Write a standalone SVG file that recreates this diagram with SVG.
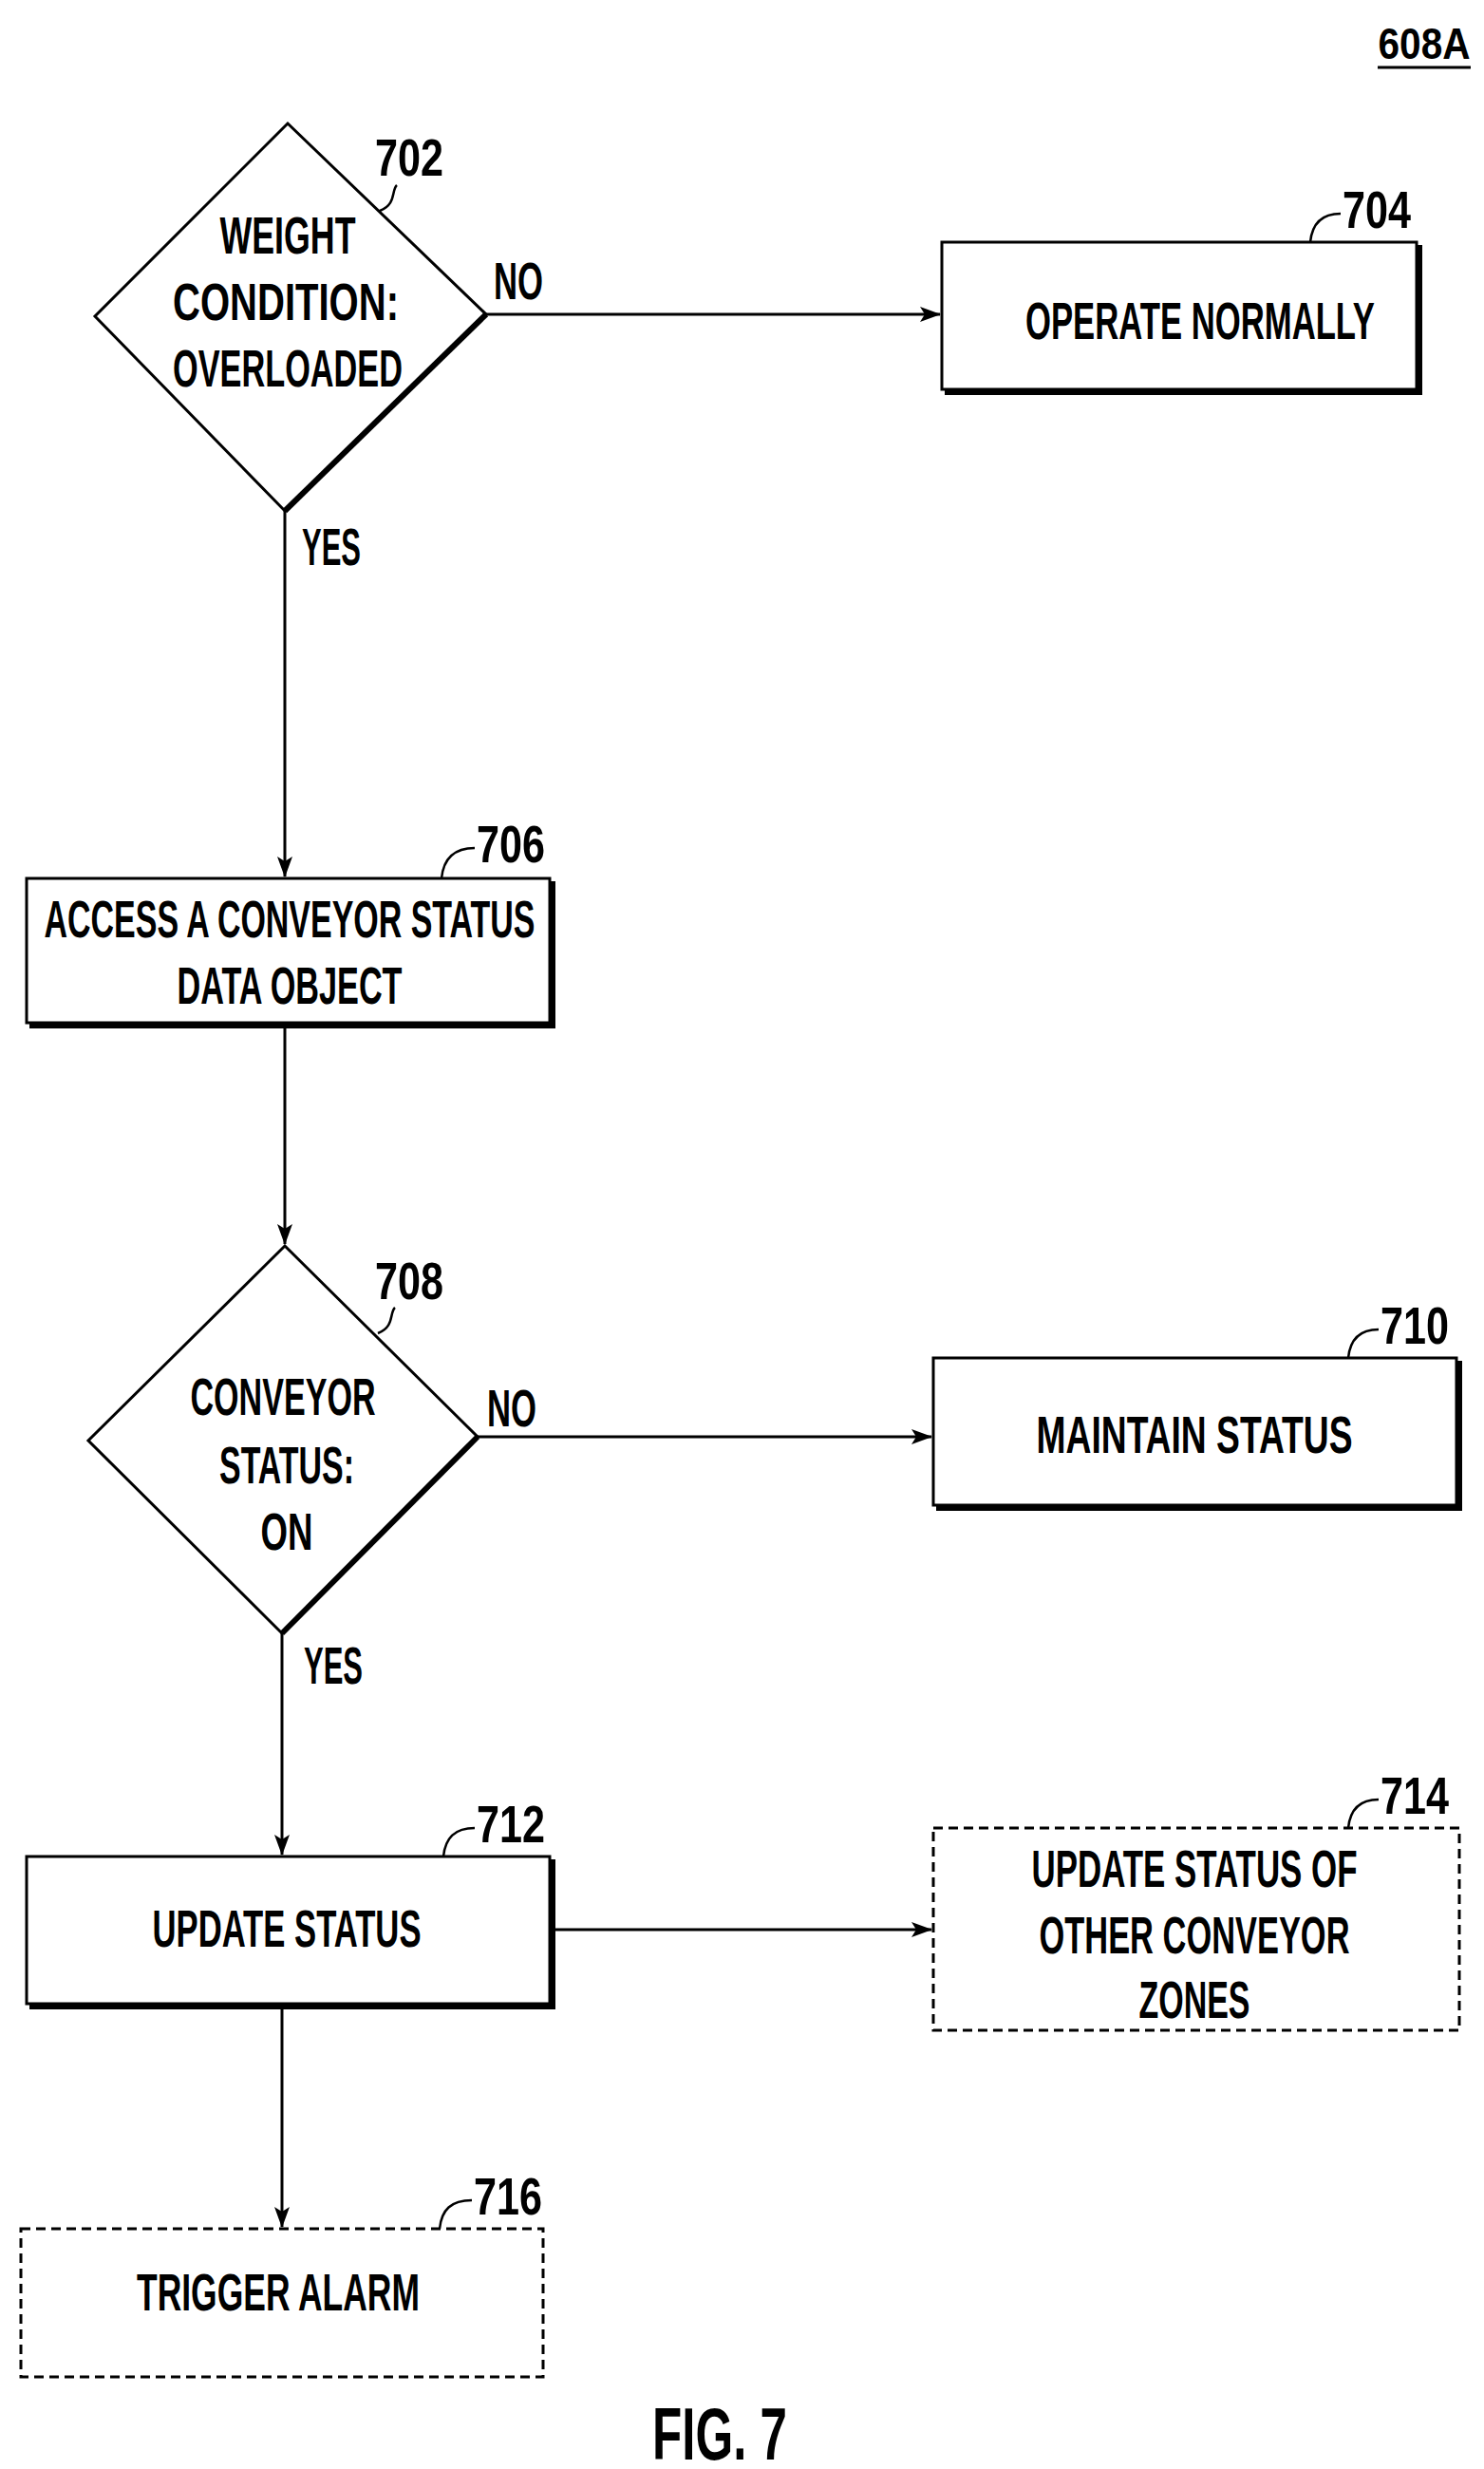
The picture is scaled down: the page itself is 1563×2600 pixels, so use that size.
<svg xmlns="http://www.w3.org/2000/svg" width="1563" height="2600" viewBox="0 0 1563 2600">
<defs>
<marker id="ah" markerWidth="22" markerHeight="16" refX="21" refY="8" orient="auto" markerUnits="userSpaceOnUse"><path d="M0,0 L22,8 L0,16 L5,8 Z" fill="#000"/></marker>
<style>
text{font-family:"Liberation Sans",Arial,sans-serif;font-weight:bold;font-size:56px;fill:#000;text-anchor:middle}
.lab{text-anchor:start}
.box{fill:#fff;stroke:#000;stroke-width:3}
.dash{fill:#fff;stroke:#000;stroke-width:3;stroke-dasharray:10 6}
.sh{fill:none;stroke:#000;stroke-width:6}
.ln{fill:none;stroke:#000;stroke-width:3}
.ld{fill:none;stroke:#000;stroke-width:2.5}
</style>
</defs>
<rect width="1563" height="2600" fill="#fff"/>
<text x="1500" y="62" style="font-size:46px" textLength="97" lengthAdjust="spacingAndGlyphs">608A</text>
<line x1="1451" y1="71" x2="1549" y2="71" class="ln"/>
<g id="connectors">
<line x1="512" y1="331" x2="990" y2="331" class="ln" marker-end="url(#ah)"/>
<line x1="300" y1="538" x2="300" y2="923" class="ln" marker-end="url(#ah)"/>
<line x1="300" y1="1080" x2="300" y2="1310" class="ln" marker-end="url(#ah)"/>
<line x1="503" y1="1513" x2="981" y2="1513" class="ln" marker-end="url(#ah)"/>
<line x1="297" y1="1720" x2="297" y2="1953" class="ln" marker-end="url(#ah)"/>
<line x1="582" y1="2032" x2="981" y2="2032" class="ln" marker-end="url(#ah)"/>
<line x1="297" y1="2113" x2="297" y2="2345" class="ln" marker-end="url(#ah)"/>
<text x="520" y="315" class="lab" textLength="52" lengthAdjust="spacingAndGlyphs">NO</text>
<text x="318" y="595" class="lab" textLength="62" lengthAdjust="spacingAndGlyphs">YES</text>
<text x="513" y="1502" class="lab" textLength="52" lengthAdjust="spacingAndGlyphs">NO</text>
<text x="320" y="1773" class="lab" textLength="62" lengthAdjust="spacingAndGlyphs">YES</text>
</g>
<g id="n702">
<polygon points="303,130 512,331 300,538 100,333" class="box"/>
<line x1="512" y1="331" x2="300" y2="538" class="sh"/>
<text x="303" y="267" textLength="143" lengthAdjust="spacingAndGlyphs">WEIGHT</text>
<text x="301" y="337" textLength="238" lengthAdjust="spacingAndGlyphs">CONDITION:</text>
<text x="303" y="407" textLength="242" lengthAdjust="spacingAndGlyphs">OVERLOADED</text>
<path d="M400,222 C418,215 412,200 418,195" class="ld"/>
<text x="395" y="185" class="lab" textLength="72" lengthAdjust="spacingAndGlyphs">702</text>
</g>
<g id="n704">
<rect x="992" y="255" width="500" height="155" class="box"/>
<polyline points="1495,258 1495,413 995,413" class="sh"/>
<text x="1264" y="357" textLength="368" lengthAdjust="spacingAndGlyphs">OPERATE NORMALLY</text>
<path d="M1380,255 C1382,235 1392,225 1412,225" class="ld"/>
<text x="1414" y="240" class="lab" textLength="72" lengthAdjust="spacingAndGlyphs">704</text>
</g>
<g id="n706">
<rect x="28" y="925" width="551" height="152" class="box"/>
<polyline points="582,928 582,1080 31,1080" class="sh"/>
<text x="305" y="987" textLength="517" lengthAdjust="spacingAndGlyphs">ACCESS A CONVEYOR STATUS</text>
<text x="305" y="1057" textLength="237" lengthAdjust="spacingAndGlyphs">DATA OBJECT</text>
<path d="M465,925 C467,905 477,893 500,893" class="ld"/>
<text x="502" y="908" class="lab" textLength="72" lengthAdjust="spacingAndGlyphs">706</text>
</g>
<g id="n708">
<polygon points="300,1312 503,1513 297,1720 93,1517" class="box"/>
<line x1="503" y1="1513" x2="297" y2="1720" class="sh"/>
<text x="298" y="1490" textLength="195" lengthAdjust="spacingAndGlyphs">CONVEYOR</text>
<text x="302" y="1562" textLength="142" lengthAdjust="spacingAndGlyphs">STATUS:</text>
<text x="302" y="1632" textLength="55" lengthAdjust="spacingAndGlyphs">ON</text>
<path d="M398,1404 C416,1397 410,1382 416,1377" class="ld"/>
<text x="395" y="1368" class="lab" textLength="72" lengthAdjust="spacingAndGlyphs">708</text>
</g>
<g id="n710">
<rect x="983" y="1430" width="551" height="155" class="box"/>
<polyline points="1537,1433 1537,1588 986,1588" class="sh"/>
<text x="1258" y="1530" textLength="333" lengthAdjust="spacingAndGlyphs">MAINTAIN STATUS</text>
<path d="M1420,1430 C1422,1410 1432,1400 1452,1400" class="ld"/>
<text x="1454" y="1415" class="lab" textLength="72" lengthAdjust="spacingAndGlyphs">710</text>
</g>
<g id="n712">
<rect x="28" y="1955" width="551" height="155" class="box"/>
<polyline points="582,1958 582,2113 31,2113" class="sh"/>
<text x="302" y="2050" textLength="283" lengthAdjust="spacingAndGlyphs">UPDATE STATUS</text>
<path d="M467,1955 C469,1935 479,1925 500,1925" class="ld"/>
<text x="502" y="1940" class="lab" textLength="72" lengthAdjust="spacingAndGlyphs">712</text>
</g>
<g id="n714">
<rect x="983" y="1925" width="554" height="213" class="dash"/>
<text x="1258" y="1987" textLength="343" lengthAdjust="spacingAndGlyphs">UPDATE STATUS OF</text>
<text x="1258" y="2057" textLength="327" lengthAdjust="spacingAndGlyphs">OTHER CONVEYOR</text>
<text x="1258" y="2125" textLength="117" lengthAdjust="spacingAndGlyphs">ZONES</text>
<path d="M1420,1925 C1422,1905 1432,1895 1452,1895" class="ld"/>
<text x="1454" y="1910" class="lab" textLength="72" lengthAdjust="spacingAndGlyphs">714</text>
</g>
<g id="n716">
<rect x="22" y="2347" width="550" height="156" class="dash"/>
<text x="293" y="2433" textLength="298" lengthAdjust="spacingAndGlyphs">TRIGGER ALARM</text>
<path d="M463,2347 C465,2327 475,2317 497,2317" class="ld"/>
<text x="499" y="2332" class="lab" textLength="72" lengthAdjust="spacingAndGlyphs">716</text>
</g>
<text x="758" y="2590" style="font-size:78px" textLength="142" lengthAdjust="spacingAndGlyphs">FIG. 7</text>
</svg>
